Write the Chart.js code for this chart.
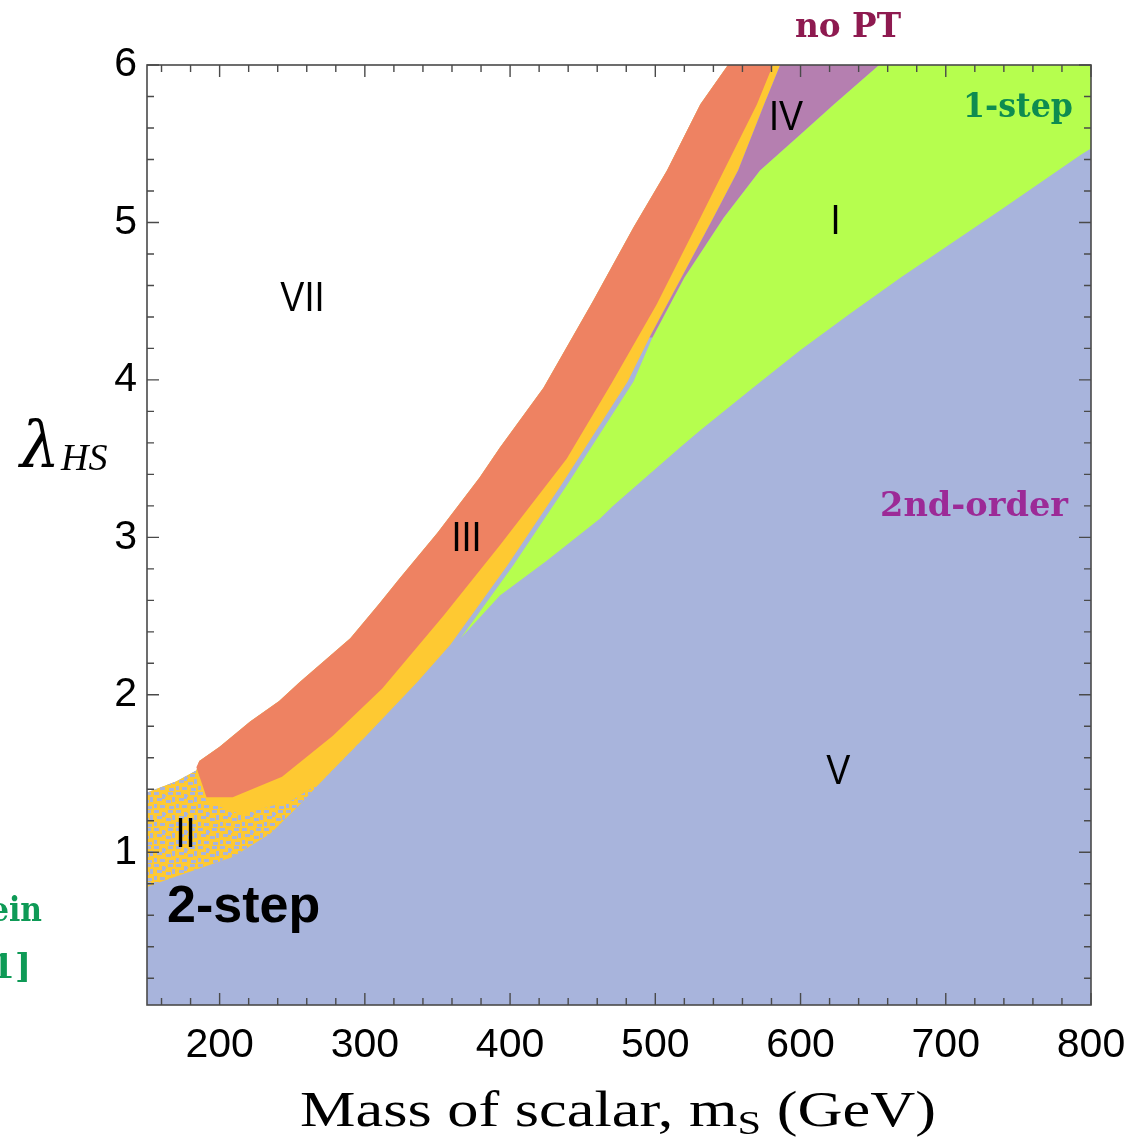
<!DOCTYPE html>
<html><head><meta charset="utf-8">
<script src="https://cdn.jsdelivr.net/npm/chart.js@4"></script>
<style>html,body{margin:0;padding:0;background:#fff;}#wrap{position:relative;width:1132px;height:1143px;}</style>
</head><body><div id="wrap"><canvas id="c" width="1132" height="1143"></canvas></div>
<script>
// ---- axes ----
const xTicks = [200, 300, 400, 500, 600, 700, 800];
const yTicks = [1, 2, 3, 4, 5, 6];
const xRange = [150, 800];
const yRange = [0.03, 6];

// ---- region boundaries (m_S in GeV, lambda_HS) ----
// VII (white) / rest boundary
const edgeVII_x = [150, 170, 184, 186, 200, 221, 241, 255, 290, 310, 324, 350, 379, 393, 423, 457, 485, 508, 531, 550];
const edgeVII_y = [1.38, 1.45, 1.52, 1.58, 1.67, 1.83, 1.96, 2.08, 2.36, 2.58, 2.74, 3.03, 3.38, 3.57, 3.95, 4.50, 4.97, 5.33, 5.75, 6.0];
// III (orange) lower edge
const edgeIII_x = [184, 191, 209, 243, 278, 312, 354, 393, 439, 470, 501, 531, 570, 581];
const edgeIII_y = [1.54, 1.35, 1.35, 1.48, 1.74, 2.04, 2.50, 2.95, 3.50, 3.98, 4.48, 5.03, 5.75, 6.0];
// II (yellow) lower edge
const edgeII_x = [150, 165, 184, 209, 235, 255, 267, 301, 336, 359, 398, 435, 481, 496, 540, 557, 575, 586];
const edgeII_y = [0.78, 0.83, 0.89, 0.97, 1.12, 1.30, 1.42, 1.74, 2.08, 2.32, 2.82, 3.33, 3.99, 4.27, 5.03, 5.33, 5.75, 6.0];
// speckled part of II (upper edge of the mixed zone)
const mixII_x = [150, 170, 184, 191, 215, 250, 290];
const mixII_y = [1.38, 1.45, 1.52, 1.32, 1.24, 1.33, 1.56];
// I (green) left edge
const edgeIleft_x = [366, 402, 439, 485, 498];
const edgeIleft_y = [2.36, 2.82, 3.33, 3.99, 4.27];
// I / IV boundary
const edgeIV_x = [498, 520, 547, 572, 600, 623, 654];
const edgeIV_y = [4.27, 4.65, 5.03, 5.33, 5.56, 5.75, 6.0];
// I / V boundary
const edgeV_x = [366, 393, 425, 462, 471, 517, 531, 566, 600, 634, 669, 738, 793, 800];
const edgeV_y = [2.36, 2.63, 2.85, 3.12, 3.20, 3.57, 3.68, 3.94, 4.19, 4.42, 4.65, 5.08, 5.43, 5.47];

// ---- labels ----
const regionLabels = ['VII', 'III', 'II', 'IV', 'I', 'V'];
const regionLabelX = [257, 370, 176.5, 590, 624, 626];
const regionLabelY = [4.51, 2.99, 1.11, 5.66, 5.0, 1.51];

const pts = (xs, ys) => xs.map((x, i) => ({x: x, y: ys[i]}));
const rev = a => a.slice().reverse();

const P_white = pts(edgeVII_x, edgeVII_y);
const P_III = pts(edgeIII_x, edgeIII_y);
const P_II = pts(edgeII_x, edgeII_y);
const P_mix = pts(mixII_x, mixII_y);
const P_Ileft = pts(edgeIleft_x, edgeIleft_y);
const P_IV = pts(edgeIV_x, edgeIV_y);
const P_V = pts(edgeV_x, edgeV_y);

const polyBlue = P_white.concat([{x: xRange[1], y: yRange[1]}, {x: xRange[1], y: yRange[0]}, {x: xRange[0], y: yRange[0]}]);
const polyYellow = P_white.concat(rev(P_II));
const polyMix = P_mix.concat(rev(P_II.filter(p => p.x <= 301)));
const polyOrange = [P_III[0]].concat(P_white.filter(p => p.x > 184), rev(P_III));
const polyGreen = P_Ileft.concat(P_IV.slice(1), [{x: xRange[1], y: yRange[1]}], rev(P_V));
const polyPurple = P_II.filter(p => p.x >= 496).concat(rev(P_IV));

// speckle texture (style only)
function speckle() {
  const c = document.createElement('canvas');
  c.width = 22; c.height = 18;
  const g = c.getContext('2d');
  g.fillStyle = '#A8B4DC';
  const blobs = [[0,0,5,3],[8,2,3,5],[14,0,5,3],[3,6,5,3],[12,8,5,3],[18,5,3,5],[0,12,3,4],[6,13,5,3],[15,14,5,3],[10,3,2,2]];
  blobs.forEach(d => g.fillRect(d[0], d[1], d[2], d[3]));
  return g.createPattern(c, 'repeat');
}

const close = a => a.concat([a[0]]);
function region(data, color, order) {
  return {data: close(data), showLine: true, fill: 'shape', backgroundColor: color, borderWidth: 0,
    borderColor: 'rgba(0,0,0,0)', pointRadius: 0, pointHoverRadius: 0, tension: 0, order: order};
}

const framePlugin = {
  id: 'frame',
  afterDraw(chart) {
    const ctx = chart.ctx, a = chart.chartArea, xs = chart.scales.x, ys = chart.scales.y;
    ctx.save();
    ctx.strokeStyle = '#4a4a4a';
    ctx.lineWidth = 1.6;
    ctx.strokeRect(a.left, a.top, a.right - a.left, a.bottom - a.top);
    ctx.lineWidth = 1.4;
    ctx.beginPath();
    for (let v = 160; v <= 800; v += 20) {
      const px = xs.getPixelForValue(v);
      const L = (v % 100 === 0) ? 12 : 7;
      ctx.moveTo(px, a.bottom); ctx.lineTo(px, a.bottom - L);
      ctx.moveTo(px, a.top); ctx.lineTo(px, a.top + L);
    }
    for (let k = 1; k <= 30; k++) {
      const v = k * 0.2;
      const py = ys.getPixelForValue(v);
      const L = (k % 5 === 0) ? 12 : 7;
      ctx.moveTo(a.left, py); ctx.lineTo(a.left + L, py);
      ctx.moveTo(a.right, py); ctx.lineTo(a.right - L, py);
    }
    ctx.stroke();

    // region labels
    ctx.fillStyle = '#000';
    ctx.textAlign = 'center';
    ctx.textBaseline = 'middle';
    ctx.font = '43px "Liberation Sans", Arial, sans-serif';
    regionLabels.forEach((t, i) => {
      const w = ctx.measureText(t).width;
      ctx.fillText(t, xs.getPixelForValue(regionLabelX[i]), ys.getPixelForValue(regionLabelY[i]), w * 0.84);
    });
    ctx.font = 'bold 52px "Liberation Sans", Arial, sans-serif';
    ctx.textAlign = 'left';
    ctx.textBaseline = 'alphabetic';
    ctx.fillText('2-step', 167, 922);

    // coloured annotations
    ctx.font = 'bold 34px "DejaVu Serif", serif';
    ctx.textAlign = 'left';
    ctx.fillStyle = '#8E1A50';
    ctx.fillText('no PT', 795, 37, 106);
    ctx.fillStyle = '#0E8C50';
    ctx.fillText('1-step', 963, 117, 110);
    ctx.fillStyle = '#9C2A97';
    ctx.fillText('2nd-order', 880, 516, 188);
    ctx.fillStyle = '#0E9A56';
    ctx.textAlign = 'right';
    ctx.fillText('ein', 42, 921, 52);
    ctx.fillText('1]', 31, 978, 40);

    // x title
    ctx.fillStyle = '#000';
    ctx.textAlign = 'left';
    const f1 = '50px "Liberation Serif", "Times New Roman", serif';
    const f2 = '34px "Liberation Serif", "Times New Roman", serif';
    const p1 = 'Mass of scalar, m', p2 = 'S', p3 = ' (GeV)';
    ctx.font = f1; const w1 = ctx.measureText(p1).width, w3 = ctx.measureText(p3).width;
    ctx.font = f2; const w2 = ctx.measureText(p2).width;
    const sx = 636 / (w1 + w2 + w3);
    ctx.translate(300, 1126);
    ctx.scale(sx, 1);
    ctx.font = f1; ctx.fillText(p1, 0, 0);
    ctx.font = f2; ctx.fillText(p2, w1, 8);
    ctx.font = f1; ctx.fillText(p3, w1 + w2, 0);
    ctx.setTransform(1, 0, 0, 1, 0, 0);

    // y title
    ctx.font = 'italic 64px "DejaVu Serif", "Liberation Serif", serif';
    ctx.fillText('\u03bb', 20, 466, 40);
    ctx.font = 'italic 38px "Liberation Serif", "Times New Roman", serif';
    ctx.fillText('HS', 61, 470);
    ctx.restore();
  }
};

const tickFont = {family: '"Liberation Sans", Arial, sans-serif', size: 41};

new Chart(document.getElementById('c'), {
  type: 'scatter',
  data: {
    datasets: [
      region(polyBlue, '#A8B4DC', 7),
      region(polyYellow, '#FEC932', 6),
      region(polyMix, speckle(), 5),
      region(polyOrange, '#EE8262', 3),
      region(polyGreen, '#B6FE4E', 2),
      region(polyPurple, '#B57FB0', 1)
    ]
  },
  options: {
    responsive: false,
    animation: false,
    events: [],
    layout: {padding: {top: 65, right: 41, left: 0, bottom: 0}},
    plugins: {legend: {display: false}, tooltip: {enabled: false}},
    scales: {
      x: {
        type: 'linear', min: xRange[0], max: xRange[1],
        afterBuildTicks: s => { s.ticks = xTicks.map(v => ({value: v})); },
        afterFit: s => { s.height = 138; s.paddingLeft = 0; s.paddingRight = 0; },
        grid: {display: false, drawTicks: false},
        border: {display: false},
        ticks: {color: '#000', padding: 16, autoSkip: false, maxRotation: 0, minRotation: 0, font: tickFont}
      },
      y: {
        type: 'linear', min: yRange[0], max: yRange[1],
        afterBuildTicks: s => { s.ticks = yTicks.map(v => ({value: v})); },
        afterFit: s => { s.width = 147; s.paddingTop = 0; s.paddingBottom = 0; },
        grid: {display: false, drawTicks: false},
        border: {display: false},
        ticks: {color: '#000', padding: 10, autoSkip: false, font: tickFont}
      }
    }
  },
  plugins: [framePlugin]
});
</script></body></html>
